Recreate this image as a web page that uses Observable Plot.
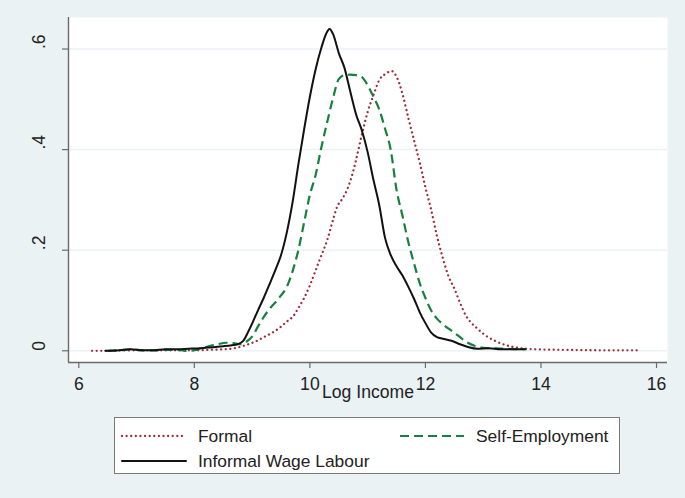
<!DOCTYPE html>
<html><head><meta charset="utf-8">
<script src="https://cdn.jsdelivr.net/npm/d3@7"></script>
<script src="https://cdn.jsdelivr.net/npm/@observablehq/plot@0.6"></script>
<style>
html,body{margin:0;padding:0;background:#eaf2f3;width:685px;height:498px;overflow:hidden;font-family:"Liberation Sans",Arial,sans-serif;}
#chart{position:absolute;left:0;top:0;}
#legend{position:absolute;left:114px;top:417px;}
</style></head><body>
<div id="chart"></div><div id="legend"></div>
<script>
// Kernel density estimates of log income by sector
const formalX = [6.23,6.5,7.0,7.5,8.0,8.3,8.5,8.63,8.8,8.92,9.05,9.2,9.35,9.49,9.6,9.72,9.8,9.9,10.0,10.1,10.2,10.3,10.4,10.47,10.56,10.65,10.72,10.8,10.9,11.0,11.1,11.2,11.3,11.42,11.5,11.6,11.7,11.8,11.9,12.0,12.1,12.2,12.3,12.4,12.5,12.6,12.7,12.8,12.9,13.0,13.2,13.4,13.6,13.9,14.3,15.0,15.69];
const formalY = [0.000,0.000,0.001,0.001,0.001,0.002,0.003,0.004,0.008,0.0125,0.018,0.027,0.036,0.047,0.058,0.070,0.085,0.105,0.130,0.160,0.190,0.220,0.260,0.286,0.302,0.322,0.345,0.380,0.430,0.475,0.508,0.538,0.550,0.556,0.545,0.512,0.465,0.420,0.375,0.325,0.280,0.228,0.185,0.148,0.124,0.095,0.070,0.055,0.044,0.034,0.020,0.011,0.006,0.003,0.002,0.001,0.001];

const selfX = [6.5,6.7,6.9,7.1,7.3,7.5,7.7,7.85,8.0,8.1,8.25,8.4,8.55,8.7,8.8,8.9,9.0,9.1,9.2,9.3,9.43,9.5,9.6,9.7,9.8,9.9,10.0,10.1,10.2,10.3,10.4,10.5,10.6,10.7,10.8,10.9,11.0,11.1,11.2,11.3,11.4,11.5,11.6,11.7,11.8,11.9,12.0,12.1,12.2,12.3,12.4,12.5,12.6,12.7,12.85,13.0,13.2,13.4,13.6,13.75];
const selfY = [0.000,0.001,0.003,0.001,0.001,0.002,0.002,0.000,0.001,0.004,0.009,0.013,0.016,0.015,0.013,0.018,0.028,0.048,0.067,0.083,0.100,0.110,0.127,0.158,0.200,0.255,0.310,0.350,0.405,0.455,0.502,0.540,0.548,0.549,0.548,0.544,0.528,0.505,0.480,0.442,0.399,0.320,0.270,0.218,0.175,0.135,0.105,0.080,0.064,0.053,0.044,0.036,0.027,0.018,0.010,0.006,0.005,0.004,0.003,0.003];

const informalX = [6.46,6.7,6.9,7.1,7.3,7.5,7.7,7.9,8.1,8.3,8.5,8.65,8.75,8.85,8.92,9.0,9.1,9.2,9.3,9.4,9.5,9.6,9.7,9.8,9.9,10.0,10.1,10.2,10.28,10.34,10.4,10.5,10.6,10.7,10.8,10.9,11.0,11.1,11.2,11.3,11.4,11.5,11.6,11.7,11.8,11.9,12.0,12.1,12.2,12.3,12.45,12.6,12.75,12.9,13.1,13.3,13.5,13.72];
const informalY = [0.000,0.001,0.003,0.001,0.001,0.003,0.003,0.004,0.005,0.007,0.009,0.011,0.013,0.020,0.035,0.054,0.080,0.105,0.132,0.160,0.190,0.235,0.295,0.370,0.440,0.505,0.560,0.603,0.630,0.640,0.630,0.592,0.562,0.515,0.470,0.438,0.395,0.340,0.290,0.225,0.190,0.168,0.150,0.128,0.104,0.077,0.055,0.036,0.027,0.024,0.020,0.013,0.007,0.004,0.005,0.003,0.003,0.003];

const seriesNames = ["Formal","Self-Employment","Informal Wage Labour"];
const xTicks = [6,8,10,12,14,16];
const yTicks = [0,0.2,0.4,0.6];
const yTickLabels = ["0",".2",".4",".6"];
const xLabel = "Log Income";

const colors = {"Formal":"#9b2d3a","Self-Employment":"#17803f","Informal Wage Labour":"#111111"};
const styles = {
  "Formal": {strokeWidth:2.3, strokeDasharray:"0.01,4.6", strokeLinecap:"round"},
  "Self-Employment": {strokeWidth:2.2, strokeDasharray:"9,5", strokeLinecap:"butt"},
  "Informal Wage Labour": {strokeWidth:2, strokeDasharray:null, strokeLinecap:"round"}
};

const toRows = (name, xs, ys) => xs.map((x, i) => ({series: name, x, y: ys[i]}));
const data = {
  "Formal": toRows("Formal", formalX, formalY),
  "Self-Employment": toRows("Self-Employment", selfX, selfY),
  "Informal Wage Labour": toRows("Informal Wage Labour", informalX, informalY)
};

const xMin = 5.822, xMax = 16.19, yMin = -0.0233, yMax = 0.6627;
const axisColor = "#6a6a6a";
const font = "'Liberation Sans', Arial, sans-serif";
const fs = 17.6;

const lineMark = name => Plot.line(data[name], {
  x: "x", y: "y", stroke: colors[name], curve: "monotone-x", ...styles[name]
});

const plot = Plot.plot({
  width: 685, height: 410,
  marginLeft: 68, marginRight: 18, marginTop: 17, marginBottom: 48,
  x: {domain: [xMin, xMax]},
  y: {domain: [yMin, yMax]},
  style: {background: "transparent", fontFamily: font, fontSize: fs + "px", color: "#222"},
  marks: [
    Plot.frame({fill: "#ffffff", stroke: null}),
    Plot.ruleY(yTicks, {stroke: "#eaf2f3", strokeWidth: 1.5}),
    lineMark("Formal"),
    lineMark("Self-Employment"),
    lineMark("Informal Wage Labour"),
    Plot.ruleX([xMin], {stroke: axisColor, strokeWidth: 1.4}),
    Plot.ruleY([yMin], {stroke: axisColor, strokeWidth: 1.4}),
    Plot.axisX({ticks: xTicks, tickSize: 6, tickPadding: 9, fontSize: fs, stroke: axisColor, strokeWidth: 1.2, label: null, tickFormat: d => String(d)}),
    Plot.axisY({ticks: yTicks, tickSize: 6, stroke: axisColor, strokeWidth: 1.2, label: null, tickFormat: () => ""}),
    Plot.text(yTicks, {y: d => d, text: (d, i) => yTickLabels[i], frameAnchor: "left", dx: -29, rotate: -90, fontSize: fs, fill: "#222"}),
    Plot.text([xLabel], {frameAnchor: "bottom", dy: 35, fontSize: fs, fill: "#222"})
  ]
});
document.getElementById("chart").append(plot);

// Legend below the plot
const W = 506, H = 57;
const svg = d3.select("#legend").append("svg").attr("width", W).attr("height", H)
  .style("font-family", font).style("font-size", "17.4px");
svg.append("rect").attr("x", 0.5).attr("y", 0.5).attr("width", W - 1).attr("height", H - 1)
  .attr("fill", "#fff").attr("stroke", "#7a7a7a").attr("stroke-width", 1);
const entries = [
  {name: "Formal", lx: 8, tx: 84, cy: 19},
  {name: "Self-Employment", lx: 286, tx: 362, cy: 19},
  {name: "Informal Wage Labour", lx: 8, tx: 84, cy: 44}
];
entries.forEach(e => {
  const s = styles[e.name];
  svg.append("line").attr("x1", e.lx).attr("x2", e.lx + 64).attr("y1", e.cy).attr("y2", e.cy)
    .attr("stroke", colors[e.name]).attr("stroke-width", s.strokeWidth)
    .attr("stroke-dasharray", s.strokeDasharray).attr("stroke-linecap", s.strokeLinecap);
  svg.append("text").attr("x", e.tx).attr("y", e.cy).attr("dy", "0.35em").attr("fill", "#222").text(e.name);
});
</script>
</body></html>
